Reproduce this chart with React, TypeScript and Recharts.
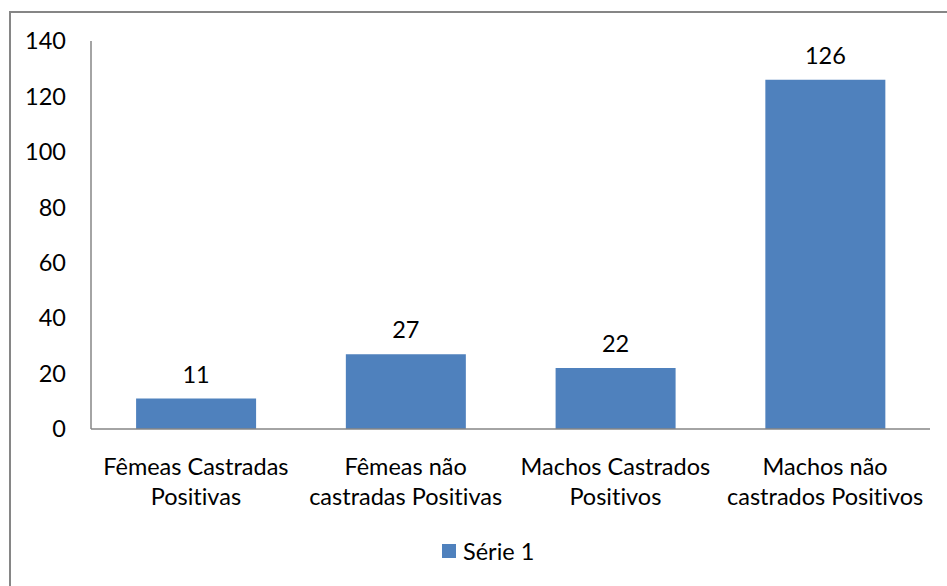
import { BarChart, Bar, XAxis, YAxis, LabelList } from "recharts";

const categoryLines = [
    ["Fêmeas Castradas", "Positivas"],
    ["Fêmeas não", "castradas Positivas"],
    ["Machos Castrados", "Positivos"],
    ["Machos não", "castrados Positivos"],
];
const serie1 = [11, 27, 22, 126];
const yTicks = [0, 20, 40, 60, 80, 100, 120, 140];
const seriesName = "Série 1";

const FONT = "Lato, 'Open Sans', sans-serif";
const FONT_SIZE = 23.5;
const BLUE = "#4F81BD";
const GRAY = "#868686";

const data = categoryLines.map((lines, i) => ({
    name: lines.join(" "),
    value: serie1[i],
}));

const textStyle = { fontVariantLigatures: "none" as const };

const CategoryTick = (props: any) => {
    const { x, y, index } = props;
    const lines = categoryLines[index] || [];
    return (
        <g>
            {lines.map((line, i) => (
                <text
                    key={i}
                    x={x}
                    y={y + 37 + i * 30}
                    textAnchor="middle"
                    dominantBaseline="central"
                    fontFamily={FONT}
                    fontSize={FONT_SIZE}
                    fill="#000"
                    style={textStyle}
                >
                    {line}
                </text>
            ))}
        </g>
    );
};

export default function App() {
    return (
        <div style={{ position: "absolute", left: 0, top: 0, width: 947, height: 586, overflow: "hidden", background: "#fff" }}>
            {/* chart frame */}
            <div
                style={{
                    position: "absolute",
                    left: 9,
                    top: 11,
                    width: 960,
                    height: 600,
                    border: `2px solid ${GRAY}`,
                    boxSizing: "border-box",
                }}
            />
            <div style={{ position: "absolute", left: 0, top: 0 }}>
                <BarChart
                    width={947}
                    height={586}
                    data={data}
                    margin={{ top: 41, right: 17, bottom: 0, left: 0 }}
                    barCategoryGap="21.5%"
                >
                    <XAxis
                        dataKey="name"
                        interval={0}
                        tickLine={false}
                        tickSize={0}
                        tickMargin={0}
                        height={157}
                        stroke={GRAY}
                        strokeWidth={1.5}
                        tick={<CategoryTick />}
                    />
                    <YAxis
                        domain={[0, 140]}
                        ticks={yTicks}
                        width={91}
                        tickLine={false}
                        tickSize={0}
                        tickMargin={25}
                        stroke={GRAY}
                        strokeWidth={1.5}
                        tick={{ fill: "#000", fontFamily: FONT, fontSize: FONT_SIZE }}
                    />
                    <Bar dataKey="value" name={seriesName} fill={BLUE} isAnimationActive={false}>
                        <LabelList
                            dataKey="value"
                            position="top"
                            offset={16}
                            fill="#000"
                            fontFamily={FONT}
                            fontSize={FONT_SIZE}
                        />
                    </Bar>
                </BarChart>
            </div>
            {/* legend */}
            <div
                style={{
                    position: "absolute",
                    left: 442,
                    top: 537,
                    display: "flex",
                    alignItems: "center",
                    fontFamily: FONT,
                    fontSize: FONT_SIZE,
                    color: "#000",
                }}
            >
                <span style={{ display: "inline-block", width: 14, height: 14, background: BLUE, marginRight: 7 }} />
                <span>{seriesName}</span>
            </div>
        </div>
    );
}
